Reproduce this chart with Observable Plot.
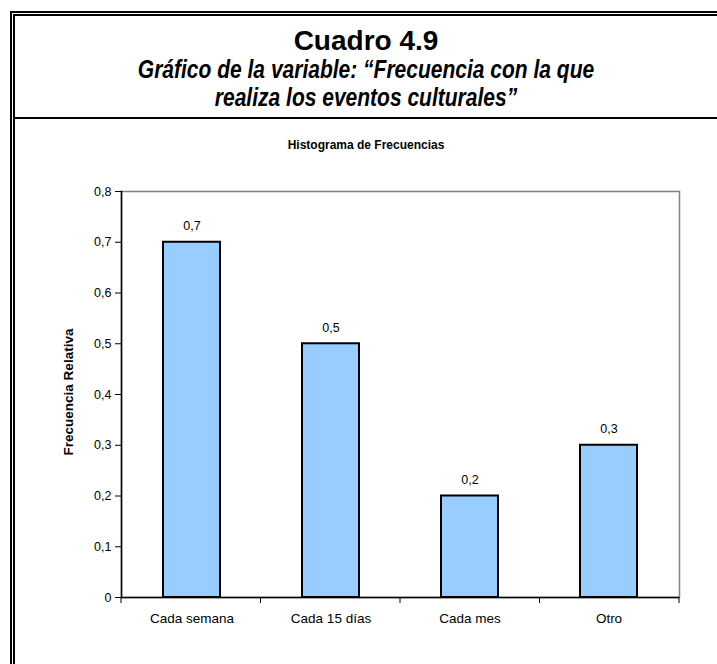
<!DOCTYPE html>
<html>
<head>
<meta charset="utf-8">
<script src="https://cdn.jsdelivr.net/npm/d3@7"></script>
<script src="https://cdn.jsdelivr.net/npm/@observablehq/plot@0.6"></script>
<style>
  html, body { margin: 0; padding: 0; background: #fff; }
  body { width: 717px; height: 664px; position: relative; overflow: hidden; font-family: "Liberation Sans", Arial, sans-serif; }
  .ln { position: absolute; background: #000; }
  .t { position: absolute; left: 15px; width: 702px; text-align: center; white-space: nowrap; line-height: 1; color: #000; }
  #c1 { top: 27px; font-size: 28px; font-weight: bold; }
  #c2 { top: 57px; font-size: 25px; font-weight: bold; font-style: italic; transform: scaleX(0.84); }
  #c3 { top: 85px; font-size: 25px; font-weight: bold; font-style: italic; transform: scaleX(0.84); }
  #ctitle { top: 139px; font-size: 12px; font-weight: bold; }
  #ylab { position: absolute; left: 69px; top: 392px; font-size: 13.5px; font-weight: bold; white-space: nowrap; line-height: 1; transform: translate(-50%, -50%) rotate(-90deg); }
  #chart { position: absolute; left: 0; top: 120px; }
</style>
</head>
<body>
<div class="ln" style="left:10px;top:11px;width:707px;height:2px"></div>
<div class="ln" style="left:13px;top:14px;width:704px;height:2px"></div>
<div class="ln" style="left:10px;top:11px;width:2px;height:653px"></div>
<div class="ln" style="left:13px;top:14px;width:2px;height:650px"></div>
<div class="ln" style="left:15px;top:117px;width:702px;height:2px"></div>
<div class="t" id="c1">Cuadro 4.9</div>
<div class="t" id="c2">Gráfico de la variable: “Frecuencia con la que</div>
<div class="t" id="c3">realiza los eventos culturales”</div>
<div class="t" id="ctitle">Histograma de Frecuencias</div>
<div id="ylab">Frecuencia Relativa</div>
<div id="chart"></div>
<script>
const categories = ["Cada semana", "Cada 15 días", "Cada mes", "Otro"];
const values = [0.7, 0.5, 0.2, 0.3];
const yTicks = [0, 0.1, 0.2, 0.3, 0.4, 0.5, 0.6, 0.7, 0.8];

const data = categories.map((c, i) => ({cat: c, val: values[i]}));
const fmt = v => v === 0 ? "0" : d3.format(".1f")(v).replace(".", ",");

function boundaryTicks(index, scales, vals, dims) {
  const {width, height, marginLeft, marginRight, marginBottom} = dims;
  const n = categories.length;
  const step = (width - marginLeft - marginRight) / n;
  const y0 = height - marginBottom;
  const g = d3.create("svg:g").attr("stroke", "#000").attr("stroke-width", 1);
  for (let i = 0; i <= n; i++) {
    const x = marginLeft + i * step;
    g.append("line").attr("x1", x).attr("x2", x).attr("y1", y0).attr("y2", y0 + 6);
  }
  return g.node();
}

const plot = Plot.plot({
  width: 717,
  height: 544,
  marginTop: 71,
  marginBottom: 67,
  marginLeft: 121,
  marginRight: 38,
  style: {fontFamily: "Liberation Sans, Arial, sans-serif", fontSize: "12px", background: "transparent", color: "#000"},
  x: {domain: categories, padding: 0, label: null},
  y: {domain: [0, 0.8], label: null},
  marks: [
    Plot.frame({stroke: "#808080", strokeWidth: 1.5}),
    Plot.barY(data, {x: "cat", y: "val", fill: "#99CCFF", stroke: "#000", strokeWidth: 2, insetLeft: 41, insetRight: 41}),
    Plot.text(data, {x: "cat", y: "val", text: d => fmt(d.val), dy: -16, fontSize: 12.5, fill: "#000"}),
    Plot.axisY({ticks: yTicks, tickFormat: fmt, tickSize: 6, tickPadding: 4, label: null, fontSize: 12.5}),
    Plot.axisX({tickSize: 0, tickPadding: 16, label: null, fontSize: 13.5}),
    Plot.ruleY([0], {stroke: "#000", strokeWidth: 1.5}),
    Plot.frame({anchor: "left", stroke: "#000", strokeWidth: 1.5}),
    boundaryTicks
  ]
});
document.getElementById("chart").appendChild(plot);
</script>
</body>
</html>
